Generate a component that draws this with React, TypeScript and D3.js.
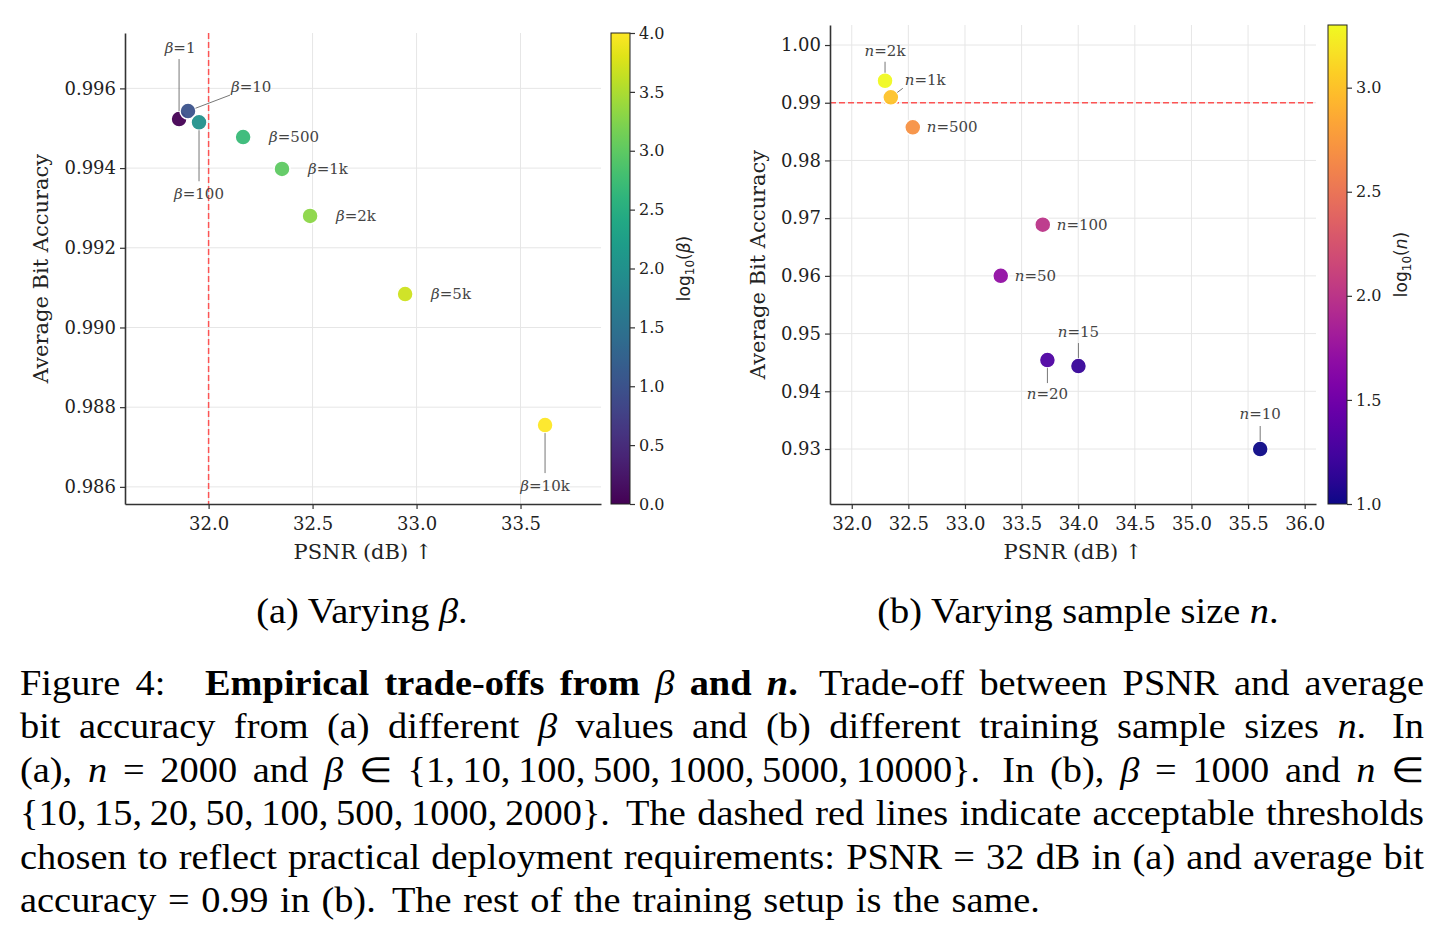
import React, { useEffect, useRef } from 'react';
import * as d3 from 'd3';

// (a) beta sweep at n = 2000
const betaValues = [1, 10, 100, 500, 1000, 2000, 5000, 10000];
const betaLabels = ['1', '10', '100', '500', '1k', '2k', '5k', '10k'];
const betaPsnr = [31.858, 31.901, 31.954, 32.166, 32.353, 32.488, 32.945, 33.618];
const betaAcc = [0.99523, 0.99543, 0.99515, 0.99478, 0.99398, 0.9928, 0.99084, 0.98755];

// (b) training sample size sweep at beta = 1000
const nValues = [10, 15, 20, 50, 100, 500, 1000, 2000];
const nLabels = ['10', '15', '20', '50', '100', '500', '1k', '2k'];
const nPsnr = [35.607, 34.002, 33.728, 33.316, 33.687, 32.539, 32.345, 32.294];
const nAcc = [0.93, 0.94437, 0.94541, 0.96002, 0.96886, 0.98574, 0.99094, 0.99381];

const psnrTicksA = [32.0, 32.5, 33.0, 33.5];
const accTicksA = [0.986, 0.988, 0.99, 0.992, 0.994, 0.996];
const psnrTicksB = [32, 32.5, 33, 33.5, 34, 34.5, 35, 35.5, 36];
const accTicksB = [0.93, 0.94, 0.95, 0.96, 0.97, 0.98, 0.99, 1.0];
const cbarTicksA = [0, 0.5, 1, 1.5, 2, 2.5, 3, 3.5, 4];
const cbarTicksB = [1, 1.5, 2, 2.5, 3];

const psnrThreshold = 32;
const accThreshold = 0.99;

const subCaptions = ['(a) Varying _β_.', '(b) Varying sample size _n_.'];
const captionLines = [
  'Figure 4:   *Empirical trade-offs from* _β_ *and _n_.*  Trade-off between PSNR and average',
  'bit accuracy from (a) different _β_ values and (b) different training sample sizes _n_.  In',
  '(a), _n_ = 2000 and _β_ ∈ {1,\u200910,\u2009100,\u2009500,\u20091000,\u20095000,\u200910000}.  In (b), _β_ = 1000 and _n_ ∈',
  '{10,\u200915,\u200920,\u200950,\u2009100,\u2009500,\u20091000,\u20092000}.  The dashed red lines indicate acceptable thresholds',
  'chosen to reflect practical deployment requirements: PSNR = 32 dB in (a) and average bit',
  'accuracy = 0.99 in (b).  The rest of the training setup is the same.',
];

const SERIF = 'DejaVu Serif';
const SANS = 'DejaVu Sans';
const TEXFONT = 'Liberation Serif';

interface Note {
  dx: number;
  dy: number;
  anchor: 'start' | 'middle';
  lead?: [number, number];
}

const side = (dx: number): Note => ({ dx, dy: 5, anchor: 'start' });

const betaNotes: Record<string, Note> = {
  '1': { dx: 1, dy: -66, anchor: 'middle', lead: [0, -60] },
  '10': { dx: 43, dy: -19, anchor: 'start', lead: [42, -16] },
  '100': { dx: 0, dy: 77, anchor: 'middle', lead: [0, 59] },
  '500': side(26),
  '1k': side(26),
  '2k': side(26),
  '5k': side(26),
  '10k': { dx: 0, dy: 66, anchor: 'middle', lead: [0, 48] },
};

const nNotes: Record<string, Note> = {
  '2k': { dx: 0, dy: -25, anchor: 'middle', lead: [0, -19] },
  '1k': { dx: 14, dy: -12, anchor: 'start', lead: [12, -9] },
  '500': side(14),
  '100': side(14),
  '50': side(14),
  '20': { dx: 0, dy: 39, anchor: 'middle', lead: [0, 23] },
  '15': { dx: 0, dy: -29, anchor: 'middle', lead: [0, -23] },
  '10': { dx: 0, dy: -30, anchor: 'middle', lead: [0, -23] },
};

interface PanelCfg {
  id: string;
  box: { left: number; top: number; right: number; bottom: number };
  xDomain: [number, number];
  yDomain: [number, number];
  xTicks: number[];
  yTicks: number[];
  yFormat: string;
  psnr: number[];
  acc: number[];
  vals: number[];
  labels: string[];
  sym: string;
  notes: Record<string, Note>;
  threshold: { axis: 'x' | 'y'; value: number };
  yLabelX: number;
  cbar: {
    x: number;
    w: number;
    domain: [number, number];
    ticks: number[];
    interp: (t: number) => string;
    labelX: number;
  };
}

type Sel = d3.Selection<SVGSVGElement, unknown, null, undefined>;

function drawPanel(svg: Sel, cfg: PanelCfg) {
  const { box } = cfg;
  const g = svg.append('g');
  const x = d3.scaleLinear().domain(cfg.xDomain).range([box.left, box.right]);
  const y = d3.scaleLinear().domain(cfg.yDomain).range([box.bottom, box.top]);
  const color = d3.scaleSequential(cfg.cbar.interp).domain(cfg.cbar.domain);

  // grid
  const grid = g.append('g').attr('stroke', '#e6e6e6').attr('stroke-width', 1);
  grid.selectAll('line.gx').data(cfg.xTicks).join('line')
    .attr('x1', d => x(d)).attr('x2', d => x(d))
    .attr('y1', box.top).attr('y2', box.bottom);
  grid.selectAll('line.gy').data(cfg.yTicks).join('line')
    .attr('class', 'gy')
    .attr('x1', box.left).attr('x2', box.right)
    .attr('y1', d => y(d)).attr('y2', d => y(d));

  // threshold
  const th = g.append('line')
    .attr('stroke', '#ff3a3a').attr('stroke-opacity', 0.85)
    .attr('stroke-width', 1.5).attr('stroke-dasharray', '6,3');
  if (cfg.threshold.axis === 'x') {
    th.attr('x1', x(cfg.threshold.value)).attr('x2', x(cfg.threshold.value))
      .attr('y1', box.top).attr('y2', box.bottom);
  } else {
    th.attr('x1', box.left).attr('x2', box.right)
      .attr('y1', y(cfg.threshold.value)).attr('y2', y(cfg.threshold.value));
  }

  const idx = d3.range(cfg.vals.length);
  const r = 8;

  g.append('g').selectAll('circle').data(idx).join('circle')
    .attr('cx', i => x(cfg.psnr[i]))
    .attr('cy', i => y(cfg.acc[i]))
    .attr('r', r)
    .attr('fill', i => color(Math.log10(cfg.vals[i])))
    .attr('fill-opacity', 0.95)
    .attr('stroke', '#fff')
    .attr('stroke-width', 1.5);

  // annotations
  const ann = g.append('g');
  idx.forEach(i => {
    const px = x(cfg.psnr[i]);
    const py = y(cfg.acc[i]);
    const note = cfg.notes[cfg.labels[i]];
    if (note.lead) {
      const [lx, ly] = note.lead;
      const len = Math.hypot(lx, ly);
      ann.append('line')
        .attr('x1', px + lx).attr('y1', py + ly)
        .attr('x2', px + (lx / len) * r).attr('y2', py + (ly / len) * r)
        .attr('stroke', '#777').attr('stroke-width', 1);
    }
    const t = ann.append('text')
      .attr('x', px + note.dx).attr('y', py + note.dy)
      .attr('text-anchor', note.anchor)
      .attr('font-family', SERIF).attr('font-size', 15).attr('fill', '#444');
    t.append('tspan').attr('font-style', 'italic').text(cfg.sym);
    t.append('tspan').text('=' + cfg.labels[i]);
  });

  // axes
  const styleAxis = (a: d3.Selection<SVGGElement, unknown, null, undefined>, size: number) => {
    a.attr('font-family', SERIF).attr('font-size', size);
    a.select('.domain').attr('stroke', '#333').attr('stroke-width', 1.6);
    a.selectAll('.tick line').attr('stroke', '#333').attr('stroke-width', 1.2);
    a.selectAll('.tick text').attr('fill', '#222');
  };
  const xa = g.append('g').attr('transform', `translate(0,${box.bottom})`)
    .call(d3.axisBottom(x).tickValues(cfg.xTicks).tickFormat(d3.format('.1f'))
      .tickSize(5).tickSizeOuter(0).tickPadding(8));
  styleAxis(xa, 18);
  const ya = g.append('g').attr('transform', `translate(${box.left},0)`)
    .call(d3.axisLeft(y).tickValues(cfg.yTicks).tickFormat(d3.format(cfg.yFormat))
      .tickSize(5).tickSizeOuter(0).tickPadding(4));
  styleAxis(ya, 18);

  g.append('text')
    .attr('x', (box.left + box.right) / 2).attr('y', 559)
    .attr('text-anchor', 'middle').attr('font-family', SERIF).attr('font-size', 21)
    .attr('fill', '#222').text('PSNR (dB) ↑');
  g.append('text')
    .attr('transform', `translate(${cfg.yLabelX},${(box.top + box.bottom) / 2}) rotate(-90)`)
    .attr('text-anchor', 'middle').attr('font-family', SERIF).attr('font-size', 21)
    .attr('fill', '#222').text('Average Bit Accuracy');

  // colorbar
  const { cbar } = cfg;
  const grad = svg.append('defs').append('linearGradient')
    .attr('id', `grad-${cfg.id}`)
    .attr('x1', 0).attr('y1', 1).attr('x2', 0).attr('y2', 0);
  d3.range(0, 1.0001, 0.05).forEach(t => {
    grad.append('stop').attr('offset', t).attr('stop-color', cbar.interp(t));
  });
  g.append('rect')
    .attr('x', cbar.x).attr('y', box.top)
    .attr('width', cbar.w).attr('height', box.bottom - box.top)
    .attr('fill', `url(#grad-${cfg.id})`)
    .attr('stroke', '#222').attr('stroke-width', 1);
  const cy = d3.scaleLinear().domain(cbar.domain).range([box.bottom, box.top]);
  const ca = g.append('g').attr('transform', `translate(${cbar.x + cbar.w},0)`)
    .call(d3.axisRight(cy).tickValues(cbar.ticks).tickFormat(d3.format('.1f'))
      .tickSize(5).tickSizeOuter(0).tickPadding(4));
  styleAxis(ca, 16);
  ca.select('.domain').remove();

  const cl = g.append('text')
    .attr('transform', `translate(${cbar.labelX},${(box.top + box.bottom) / 2}) rotate(-90)`)
    .attr('text-anchor', 'middle').attr('font-family', SANS).attr('font-size', 17)
    .attr('fill', '#222');
  cl.append('tspan').text('log');
  cl.append('tspan').attr('font-size', 12).attr('dy', 4).text('10');
  cl.append('tspan').attr('dy', -4).text('(');
  cl.append('tspan').attr('font-style', 'italic').text(cfg.sym);
  cl.append('tspan').text(')');
}

type Seg = { t: string; b: boolean; i: boolean };

function parseLine(s: string) {
  const words: Seg[][] = [];
  const gaps: number[] = [];
  let cur: Seg[] = [];
  let bold = false;
  let ital = false;
  let spaces = 0;
  for (const ch of s) {
    if (ch === '*') { bold = !bold; continue; }
    if (ch === '_') { ital = !ital; continue; }
    if (ch === ' ') {
      if (cur.length) { words.push(cur); cur = []; spaces = 0; }
      spaces++;
      continue;
    }
    if (!cur.length && words.length) gaps.push(spaces);
    const last = cur[cur.length - 1];
    if (last && last.b === bold && last.i === ital) last.t += ch;
    else cur.push({ t: ch, b: bold, i: ital });
  }
  if (cur.length) words.push(cur);
  return { words, gaps };
}

const gapWeight = (n: number) => (n === 1 ? 1 : n === 2 ? 1.4 : 2.6);

function drawCaption(svg: Sel) {
  const fs = 35;
  const left = 20;
  const right = 1424;
  const lastWidth = 1020;
  const g = svg.append('g').attr('font-family', TEXFONT).attr('font-size', fs).attr('fill', '#000');

  const addText = (segs: Seg[]) => {
    const t = g.append('text');
    segs.forEach(s => {
      t.append('tspan')
        .attr('font-weight', s.b ? 'bold' : null)
        .attr('font-style', s.i ? 'italic' : null)
        .text(s.t);
    });
    return t;
  };

  const lines = captionLines.map(parseLine).map(l => {
    const els = l.words.map(addText);
    const widths = els.map(e => (e.node() as SVGTextElement).getComputedTextLength());
    return { ...l, els, widths };
  });

  // horizontal stretch so the ragged last line keeps its width
  const space = 0.3 * fs;
  const last = lines[lines.length - 1];
  const natural = d3.sum(last.widths) + d3.sum(last.gaps.map(gapWeight)) * space;
  const sx = Math.max(0.9, Math.min(1.2, lastWidth / natural));

  lines.forEach((l, li) => {
    const baseline = 695 + li * 43.4;
    const weights = l.gaps.map(gapWeight);
    const justify = li < lines.length - 1;
    const unit = justify
      ? (right - left - d3.sum(l.widths) * sx) / d3.sum(weights)
      : space * sx;
    let cx = left;
    l.els.forEach((e, i) => {
      e.attr('transform', `translate(${cx},${baseline}) scale(${sx},1)`);
      cx += l.widths[i] * sx + (i < weights.length ? weights[i] * unit : 0);
    });
  });

  [362, 1078].forEach((cx, i) => {
    const segs: Seg[] = [];
    subCaptions[i].split('_').forEach((part, k) => {
      if (part) segs.push({ t: part, b: false, i: k % 2 === 1 });
    });
    addText(segs)
      .attr('text-anchor', 'middle')
      .attr('transform', `translate(${cx},623) scale(${sx},1)`);
  });
}

const App: React.FC = () => {
  const ref = useRef<SVGSVGElement | null>(null);

  useEffect(() => {
    const svg = d3.select(ref.current as SVGSVGElement);
    svg.selectAll('*').remove();
    svg.append('rect').attr('width', 1441).attr('height', 935).attr('fill', '#fff');

    drawPanel(svg, {
      id: 'beta',
      box: { left: 125, top: 33, right: 601, bottom: 504 },
      xDomain: [31.598, 33.887],
      yDomain: [0.98557, 0.99739],
      xTicks: psnrTicksA,
      yTicks: accTicksA,
      yFormat: '.3f',
      psnr: betaPsnr,
      acc: betaAcc,
      vals: betaValues,
      labels: betaLabels,
      sym: 'β',
      notes: betaNotes,
      threshold: { axis: 'x', value: psnrThreshold },
      yLabelX: 48,
      cbar: {
        x: 611, w: 19, domain: [0, 4], ticks: cbarTicksA,
        interp: d3.interpolateViridis, labelX: 690,
      },
    });

    drawPanel(svg, {
      id: 'n',
      box: { left: 830, top: 25, right: 1316, bottom: 504 },
      xDomain: [31.808, 36.1],
      yDomain: [0.92047, 1.00347],
      xTicks: psnrTicksB,
      yTicks: accTicksB,
      yFormat: '.2f',
      psnr: nPsnr,
      acc: nAcc,
      vals: nValues,
      labels: nLabels,
      sym: 'n',
      notes: nNotes,
      threshold: { axis: 'y', value: accThreshold },
      yLabelX: 765,
      cbar: {
        x: 1328, w: 19, domain: [1, Math.log10(2000)], ticks: cbarTicksB,
        interp: d3.interpolatePlasma, labelX: 1407,
      },
    });

    drawCaption(svg);
  }, []);

  return (
    <svg
      ref={ref}
      width={1441}
      height={935}
      style={{ position: 'absolute', left: 0, top: 0, display: 'block' }}
    />
  );
};

export default App;
